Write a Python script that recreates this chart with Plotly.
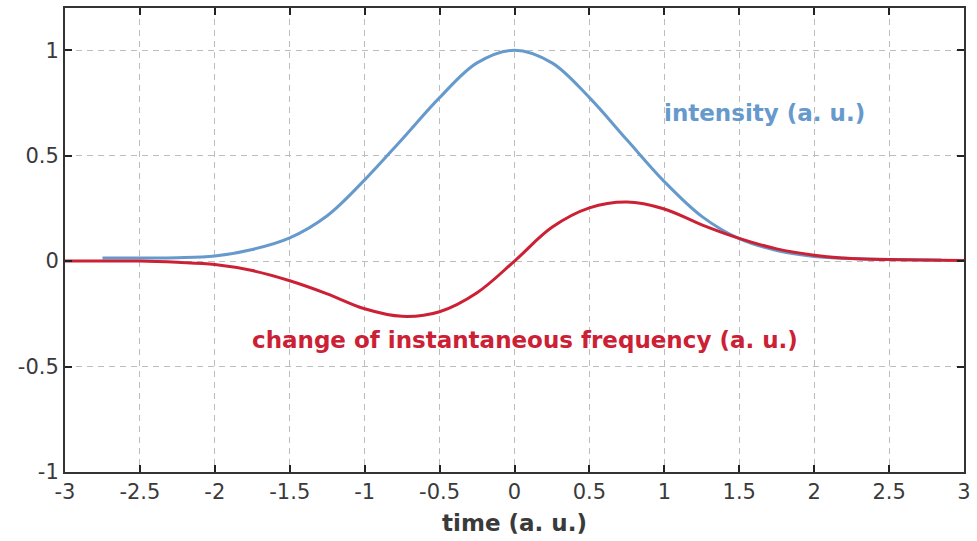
import plotly.graph_objects as go

# intensity (a. u.)
t_int = [-2.75, -2.5, -2.25, -2.0, -1.75, -1.5, -1.25, -1.0, -0.75, -0.5, -0.25, 0.0,
         0.25, 0.5, 0.75, 1.0, 1.25, 1.5, 1.75, 2.0, 2.25, 2.5, 2.85]
intensity = [0.015, 0.015, 0.016, 0.024, 0.055, 0.11, 0.215, 0.385, 0.578, 0.775, 0.94, 1.0,
             0.94, 0.775, 0.575, 0.377, 0.212, 0.106, 0.05, 0.022, 0.012, 0.008, 0.005]

# change of instantaneous frequency (a. u.)
t_freq = [-3.0, -2.5, -2.25, -2.0, -1.75, -1.5, -1.25, -1.0, -0.75, -0.5, -0.25, 0.0,
          0.25, 0.5, 0.75, 1.0, 1.25, 1.5, 1.75, 2.0, 2.25, 2.5, 3.0]
freq = [0.0, 0.0, -0.006, -0.016, -0.045, -0.093, -0.155, -0.226, -0.262, -0.24, -0.15, 0.0,
        0.16, 0.252, 0.28, 0.247, 0.172, 0.108, 0.058, 0.028, 0.012, 0.007, 0.003]

x_ticks = [-3, -2.5, -2, -1.5, -1, -0.5, 0, 0.5, 1, 1.5, 2, 2.5, 3]
x_tick_labels = ["-3", "-2.5", "-2", "-1.5", "-1", "-0.5", "0", "0.5", "1", "1.5", "2", "2.5", "3"]
y_ticks = [-1, -0.5, 0, 0.5, 1]
y_tick_labels = ["-1", "-0.5", "0", "0.5", "1"]

BLUE = "#6699cc"
RED = "#cc2035"
TEXT = "#3a3a3a"
FONT = "DejaVu Sans"

fig = go.Figure()
fig.add_trace(go.Scatter(x=t_int, y=intensity, mode="lines",
                         line=dict(color=BLUE, width=3, shape="spline", smoothing=1.0),
                         hoverinfo="skip"))
fig.add_trace(go.Scatter(x=t_freq, y=freq, mode="lines",
                         line=dict(color=RED, width=3, shape="spline", smoothing=1.0),
                         hoverinfo="skip"))

fig.add_annotation(x=1.67, y=0.70, text="<b>intensity (a. u.)</b>", showarrow=False,
                   font=dict(family=FONT, size=23, color=BLUE))
fig.add_annotation(x=0.07, y=-0.373, text="<b>change of instantaneous frequency (a. u.)</b>",
                   showarrow=False, font=dict(family=FONT, size=23, color=RED))

axis_common = dict(showline=True, linecolor="#333333", linewidth=2, mirror="ticks",
                   ticks="inside", ticklen=7, tickwidth=2, tickcolor="#222222",
                   showgrid=True, gridcolor="#bdbdbd", griddash="6px,5px", gridwidth=1,
                   zeroline=False, tickfont=dict(family=FONT, size=21, color=TEXT))

fig.update_xaxes(range=[-3, 3], tickvals=x_ticks, ticktext=x_tick_labels,
                 title=dict(text="<b>time (a. u.)</b>", font=dict(family=FONT, size=23, color=TEXT),
                            standoff=12),
                 **axis_common)
fig.update_yaxes(range=[-1, 1.2], tickvals=y_ticks, ticktext=y_tick_labels, **axis_common)

fig.update_layout(width=977, height=541, margin=dict(l=65, r=8, t=6, b=69),
                  plot_bgcolor="white", paper_bgcolor="white", showlegend=False)

fig.write_html("out.html")
